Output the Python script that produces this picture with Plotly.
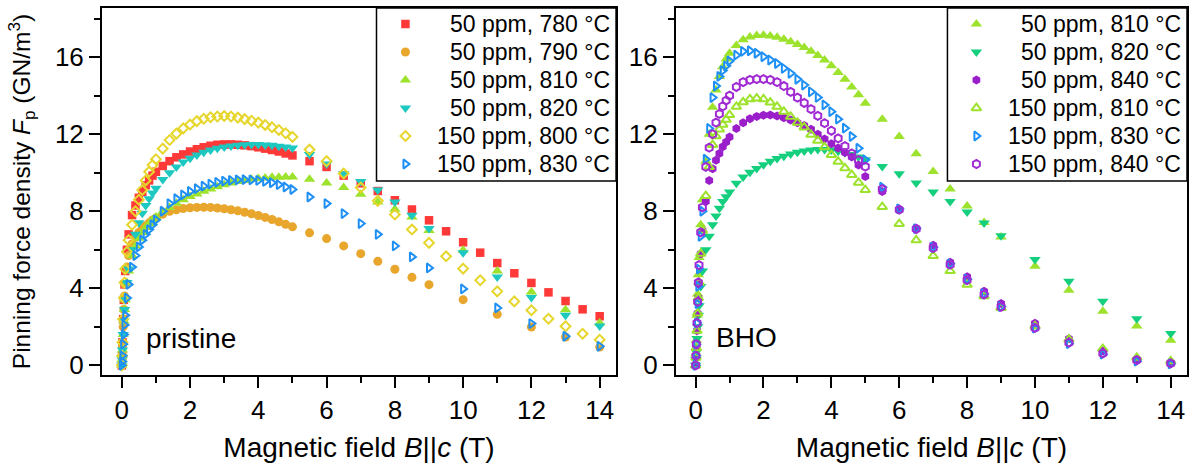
import plotly.graph_objects as go

# ---------------- data ----------------
B_low = [0, 0.01, 0.02, 0.04, 0.06, 0.08, 0.1, 0.15, 0.2, 0.3, 0.4, 0.5, 0.6, 0.7, 0.8, 0.9, 1.0,
         1.2, 1.4, 1.6, 1.8, 2.0, 2.2, 2.4, 2.6, 2.8, 3.0, 3.2, 3.4, 3.6, 3.8, 4.0, 4.2, 4.4, 4.6, 4.8, 5.0]
B_hi = [5.5, 6.0, 6.5, 7.0, 7.5, 8.0, 8.5, 9.0, 10.0, 11.0, 12.0, 13.0, 14.0]
B_hi_half = [5.5, 6.0, 6.5, 7.0, 7.5, 8.0, 8.5, 9.0, 9.5, 10.0, 10.5, 11.0, 11.5, 12.0, 12.5, 13.0, 13.5, 14.0]

# pristine panel
p780_low = [0, 0.5, 1.2, 2.4, 3.4, 4.2, 4.9, 6.0, 6.8, 7.8, 8.3, 8.7, 9.0, 9.35, 9.6, 9.85, 10.05,
            10.35, 10.6, 10.8, 10.95, 11.1, 11.22, 11.32, 11.4, 11.45, 11.47, 11.47, 11.45, 11.42, 11.38,
            11.32, 11.25, 11.18, 11.1, 11.0, 10.9]
p780_hi = [10.6, 10.3, 9.85, 9.45, 9.05, 8.57, 8.09, 7.53, 6.96, 6.39, 5.85, 5.31, 4.78, 4.28, 3.79,
           3.34, 2.91, 2.55]
p790_low = [0, 0.4, 1.0, 2.0, 2.9, 3.6, 4.2, 5.1, 5.7, 6.3, 6.65, 6.9, 7.1, 7.25, 7.4, 7.55, 7.65,
            7.85, 8.0, 8.08, 8.14, 8.18, 8.2, 8.21, 8.2, 8.17, 8.13, 8.08, 8.02, 7.95, 7.87, 7.78, 7.68,
            7.57, 7.45, 7.32, 7.19]
p790_hi = [6.88, 6.58, 6.2, 5.8, 5.4, 4.99, 4.57, 4.19, 3.41, 2.65, 1.99, 1.47, 0.95]
p810_low = [0, 0.3, 0.8, 1.6, 2.3, 2.9, 3.4, 4.3, 4.9, 5.7, 6.2, 6.6, 6.9, 7.15, 7.35, 7.55, 7.7,
            7.98, 8.2, 8.42, 8.6, 8.76, 8.9, 9.04, 9.16, 9.27, 9.37, 9.46, 9.54, 9.6, 9.66, 9.7, 9.73,
            9.76, 9.77, 9.78, 9.78]
p810_hi = [9.66, 9.47, 9.23, 8.88, 8.48, 8.1, 7.7, 7.0, 5.97, 4.9, 3.81, 2.89, 2.2]
p820_low = [0, 0.3, 0.8, 1.6, 2.3, 2.9, 3.4, 4.3, 5.0, 6.0, 6.8, 7.4, 7.9, 8.3, 8.65, 8.95, 9.2,
            9.65, 10.0, 10.3, 10.55, 10.75, 10.92, 11.06, 11.18, 11.27, 11.34, 11.39, 11.43, 11.45, 11.46,
            11.46, 11.44, 11.42, 11.38, 11.34, 11.28]
p820_hi = [10.95, 10.45, 9.95, 9.55, 9.1, 8.48, 7.79, 7.1, 5.84, 4.59, 3.52, 2.6, 2.04]
q800_low = [0, 0.5, 1.2, 2.4, 3.5, 4.3, 5.0, 5.9, 6.5, 7.3, 8.0, 8.6, 9.1, 9.6, 10.05, 10.4, 10.7,
            11.25, 11.7, 12.03, 12.3, 12.5, 12.68, 12.8, 12.88, 12.92, 12.94, 12.92, 12.86, 12.78, 12.7,
            12.6, 12.48, 12.36, 12.22, 12.05, 11.86]
q800_hi = [11.2, 10.6, 9.96, 9.23, 8.54, 7.83, 7.05, 6.36, 5.66, 5.02, 4.42, 3.84, 3.32, 2.86, 2.42,
           2.03, 1.64, 1.33]
q830_low = [0, 0.2, 0.5, 1.1, 1.6, 2.1, 2.6, 3.5, 4.2, 5.1, 5.7, 6.15, 6.5, 6.8, 7.05, 7.3, 7.55,
            8.0, 8.4, 8.65, 8.85, 9.03, 9.17, 9.3, 9.41, 9.5, 9.56, 9.6, 9.63, 9.64, 9.63, 9.6, 9.55,
            9.48, 9.38, 9.26, 9.13]
q830_hi = [8.74, 8.4, 7.88, 7.36, 6.8, 6.2, 5.63, 5.06, 3.97, 2.98, 2.17, 1.51, 0.99]

# BHO panel
b810_low = [0, 0.6, 1.3, 2.6, 3.7, 4.7, 5.6, 7.3, 8.6, 10.6, 12.0, 13.4, 14.3, 15.0, 15.5, 15.9, 16.2,
            16.6, 16.9, 17.05, 17.12, 17.14, 17.1, 17.03, 16.93, 16.8, 16.65, 16.5, 16.3, 16.08, 15.85,
            15.55, 15.2, 14.85, 14.45, 14.05, 13.6]
b810_hi = [12.77, 11.88, 10.98, 10.06, 9.15, 8.27, 7.42, 6.66, 5.14, 3.9, 2.81, 2.04, 1.31]
b820_low = [0, 0.3, 0.7, 1.4, 2.0, 2.6, 3.1, 4.1, 4.9, 6.0, 6.7, 7.3, 7.75, 8.15, 8.5, 8.75, 9.0,
            9.45, 9.78, 10.02, 10.22, 10.42, 10.6, 10.74, 10.86, 10.97, 11.06, 11.13, 11.18, 11.2, 11.2,
            11.18, 11.12, 11.04, 10.94, 10.82, 10.67]
b820_hi = [10.32, 9.94, 9.46, 9.0, 8.5, 7.96, 7.39, 6.73, 5.49, 4.37, 3.33, 2.42, 1.66]
b840_low = [0, 0.4, 0.9, 1.8, 2.7, 3.5, 4.2, 5.8, 7.0, 8.5, 9.6, 10.2, 10.65, 11.0, 11.35, 11.6, 11.85,
            12.3, 12.6, 12.8, 12.92, 12.98, 13.0, 12.95, 12.85, 12.74, 12.6, 12.45, 12.25, 12.0, 11.75,
            11.5, 11.28, 11.05, 10.82, 10.4, 9.8]
b840_hi = [9.03, 8.1, 7.12, 6.23, 5.35, 4.6, 3.85, 3.21, 2.18, 1.38, 0.74, 0.31, 0.14]
c810_low = [0, 0.4, 0.9, 1.8, 2.7, 3.5, 4.3, 5.8, 7.0, 8.8, 10.3, 11.45, 11.9, 12.25, 12.5, 12.75, 13.0,
            13.43, 13.66, 13.82, 13.86, 13.82, 13.65, 13.43, 13.17, 12.91, 12.6, 12.36, 11.98, 11.67,
            11.33, 10.93, 10.58, 10.24, 9.89, 9.49, 9.11]
c810_hi = [8.23, 7.35, 6.5, 5.68, 4.9, 4.19, 3.59, 2.99, 2.04, 1.35, 0.86, 0.4, 0.22]
c830_low = [0, 0.5, 1.1, 2.2, 3.2, 4.1, 5.0, 6.7, 8.0, 10.7, 12.3, 13.9, 14.5, 15.0, 15.3, 15.55, 15.8,
            16.1, 16.3, 16.33, 16.2, 16.02, 15.85, 15.67, 15.42, 15.16, 14.85, 14.55, 14.2, 13.91, 13.52,
            13.17, 12.78, 12.31, 11.88, 11.27, 10.67]
c830_hi = [9.25, 8.12, 7.1, 6.13, 5.27, 4.47, 3.71, 3.05, 1.93, 1.13, 0.58, 0.22, 0.08]
c840_low = [0, 0.5, 1.1, 2.2, 3.3, 4.3, 5.2, 6.9, 8.2, 10.3, 11.3, 12.0, 12.6, 13.05, 13.45, 13.75, 14.0,
            14.45, 14.7, 14.82, 14.86, 14.86, 14.82, 14.7, 14.5, 14.2, 13.9, 13.62, 13.3, 12.95, 12.57,
            12.18, 11.78, 11.38, 11.0, 10.65, 10.32]
c840_hi = [9.15, 8.08, 7.08, 6.09, 5.23, 4.43, 3.68, 3.04, 1.95, 1.18, 0.62, 0.27, 0.1]

x_ticks = [0, 2, 4, 6, 8, 10, 12, 14]
y_ticks = [0, 4, 8, 12, 16]

# ---------------- styling ----------------
FONT = "Arial, Liberation Sans, sans-serif"
W, H = 1194, 467
ML, MR, MT, MB = 102, 5, 8, 92
PW = W - ML - MR
PH = H - MT - MB
P1_RIGHT, P2_LEFT = 617, 677
dom1 = [0, (P1_RIGHT - ML) / PW]
dom2 = [(P2_LEFT - ML) / PW, 1]

left_series = [
    ("50 ppm, 780 °C", p780_low, p780_hi, B_hi_half, "square", "#FF3838", 8.5, False),
    ("50 ppm, 790 °C", p790_low, p790_hi, B_hi, "circle", "#E8A62C", 9, False),
    ("50 ppm, 810 °C", p810_low, p810_hi, B_hi, "triangle-up", "#9DE22C", 10, False),
    ("50 ppm, 820 °C", p820_low, p820_hi, B_hi, "triangle-down", "#1CC8C0", 10, False),
    ("150 ppm, 800 °C", q800_low, q800_hi, B_hi_half, "diamond-open", "#E6D62C", 7.5, True),
    ("150 ppm, 830 °C", q830_low, q830_hi, B_hi, "triangle-right-open", "#1E90F5", 8, True),
]
right_series = [
    ("50 ppm, 810 °C", b810_low, b810_hi, B_hi, "triangle-up", "#9DE22C", 10, False),
    ("50 ppm, 820 °C", b820_low, b820_hi, B_hi, "triangle-down", "#14CF7E", 10, False),
    ("50 ppm, 840 °C", b840_low, b840_hi, B_hi, "hexagon", "#9A1FCB", 9, False),
    ("150 ppm, 810 °C", c810_low, c810_hi, B_hi, "triangle-up-open", "#9DE22C", 8.5, True),
    ("150 ppm, 830 °C", c830_low, c830_hi, B_hi, "triangle-right-open", "#1E90F5", 8, True),
    ("150 ppm, 840 °C", c840_low, c840_hi, B_hi, "hexagon-open", "#A02BD3", 8, True),
]


def marker(sym, col, size, is_open):
    if is_open:
        return dict(symbol=sym, size=size, color=col, line=dict(color=col, width=2))
    return dict(symbol=sym, size=size, color=col, line=dict(width=0))


fig = go.Figure()
for series, xa, ya in ((left_series, "x", "y"), (right_series, "x2", "y2")):
    for name, lo, hi, bhi, sym, col, size, is_open in series:
        fig.add_trace(go.Scatter(x=B_low + bhi, y=lo + hi, mode="markers", name=name,
                                 marker=marker(sym, col, size, is_open),
                                 xaxis=xa, yaxis=ya, showlegend=False))

# ---- hand-drawn legends (pixel-based overlay axis) ----
LEG_W, LEG_H = 240, 173
ROW0, ROW_DY = 16, 28
SYM_DX, TXT_PAD = 29, 4
LEG_FONT = 23
shapes, annotations = [], []


def px2paper_x(px):
    return (px - ML) / PW


def px2paper_y(py):
    return (H - MB - py) / PH


for series, right_px in ((left_series, P1_RIGHT), (right_series, W - MR)):
    left_px = right_px - LEG_W
    top_px = MT
    shapes.append(dict(type="rect", xref="paper", yref="paper", layer="below",
                       x0=px2paper_x(left_px), x1=px2paper_x(right_px),
                       y0=px2paper_y(top_px + LEG_H), y1=px2paper_y(top_px),
                       line=dict(color="black", width=1.5), fillcolor="white"))
    for i, (name, lo, hi, bhi, sym, col, size, is_open) in enumerate(series):
        ry = top_px + ROW0 + i * ROW_DY
        fig.add_trace(go.Scatter(x=[left_px + SYM_DX], y=[ry], mode="markers",
                                 marker=marker(sym, col, size, is_open),
                                 xaxis="x3", yaxis="y3", showlegend=False, hoverinfo="skip"))
        annotations.append(dict(text=name, xref="paper", yref="paper",
                                x=px2paper_x(right_px - TXT_PAD), y=px2paper_y(ry),
                                xanchor="right", yanchor="middle", showarrow=False,
                                font=dict(family=FONT, size=LEG_FONT, color="black")))

annotations += [
    dict(text="pristine", x=2.03, y=1.4, xref="x", yref="y", showarrow=False,
         font=dict(family=FONT, size=28, color="black")),
    dict(text="BHO", x=1.5, y=1.45, xref="x2", yref="y2", showarrow=False,
         font=dict(family=FONT, size=28, color="black")),
]

axis_common = dict(showline=True, linewidth=2, linecolor="black", mirror=True,
                   ticks="outside", ticklen=11, tickwidth=2, tickcolor="black",
                   showgrid=False, zeroline=False,
                   tickfont=dict(family=FONT, size=26, color="black"))
xt = "Magnetic field <i>B</i>||<i>c</i> (T)"
xax = dict(axis_common, range=[-0.58, 14.48], tickvals=x_ticks,
           minor=dict(ticks="outside", ticklen=6, tickwidth=2, tickcolor="black", dtick=1, tick0=0),
           title=dict(text=xt, font=dict(family=FONT, size=28, color="black"), standoff=13))
yax = dict(axis_common, range=[-0.5, 18.55], tickvals=y_ticks,
           minor=dict(ticks="outside", ticklen=6, tickwidth=2, tickcolor="black", dtick=2, tick0=0))

fig.update_layout(
    width=W, height=H,
    margin=dict(l=ML, r=MR, t=MT, b=MB),
    paper_bgcolor="white", plot_bgcolor="rgba(0,0,0,0)",
    font=dict(family=FONT, color="black"),
    showlegend=False,
    xaxis=dict(xax, domain=dom1, anchor="y"),
    yaxis=dict(yax, domain=[0, 1], anchor="x",
               title=dict(text="Pinning force density <i>F</i><sub>p</sub> (GN/m<sup>3</sup>)",
                          font=dict(family=FONT, size=24.5, color="black"), standoff=17)),
    xaxis2=dict(xax, domain=dom2, anchor="y2"),
    yaxis2=dict(yax, domain=[0, 1], anchor="x2"),
    xaxis3=dict(domain=[0, 1], range=[ML, W - MR], anchor="y3", visible=False, fixedrange=True),
    yaxis3=dict(domain=[0, 1], range=[H - MB, MT], anchor="x3", visible=False, fixedrange=True),
    shapes=shapes,
    annotations=annotations,
)

fig.write_html("out.html")
